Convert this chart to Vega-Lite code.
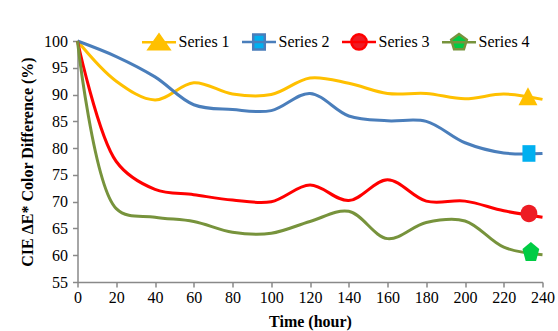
{
  "$schema": "https://vega.github.io/schema/vega-lite/v6.json",
  "autosize": {"type": "none"},
  "width": 465,
  "height": 241,
  "padding": {"left": 77.5, "top": 41, "right": 15.5, "bottom": 49},
  "background": "white",
  "config": {
    "view": {"stroke": null},
    "font": "Liberation Serif",
    "axis": {
      "grid": false,
      "domainColor": "#898989",
      "domainWidth": 1.5,
      "tickColor": "#898989",
      "tickWidth": 1.5,
      "tickSize": 5,
      "labelFont": "Liberation Serif",
      "labelFontSize": 16,
      "labelColor": "black",
      "labelOverlap": false,
      "labelFlush": false,
      "titleFont": "Liberation Serif",
      "titleFontSize": 16,
      "titleFontWeight": "bold",
      "titleColor": "black"
    },
    "legend": {
      "labelFont": "Liberation Serif",
      "labelFontSize": 16,
      "labelColor": "black"
    }
  },
  "datasets": {
    "lines": [
      {"series": "Series 1", "h": 0, "v": 100}, {"series": "Series 1", "h": 20, "v": 92.5}, {"series": "Series 1", "h": 40, "v": 89}, {"series": "Series 1", "h": 60, "v": 92.2}, {"series": "Series 1", "h": 80, "v": 90.1}, {"series": "Series 1", "h": 100, "v": 90}, {"series": "Series 1", "h": 120, "v": 93.1}, {"series": "Series 1", "h": 140, "v": 92.1}, {"series": "Series 1", "h": 160, "v": 90.2}, {"series": "Series 1", "h": 180, "v": 90.2}, {"series": "Series 1", "h": 200, "v": 89.2}, {"series": "Series 1", "h": 220, "v": 90.1}, {"series": "Series 1", "h": 240, "v": 89.1},
      {"series": "Series 2", "h": 0, "v": 100}, {"series": "Series 2", "h": 20, "v": 97.1}, {"series": "Series 2", "h": 40, "v": 93.3}, {"series": "Series 2", "h": 60, "v": 88.1}, {"series": "Series 2", "h": 80, "v": 87.2}, {"series": "Series 2", "h": 100, "v": 87}, {"series": "Series 2", "h": 120, "v": 90.2}, {"series": "Series 2", "h": 140, "v": 86}, {"series": "Series 2", "h": 160, "v": 85.1}, {"series": "Series 2", "h": 180, "v": 85}, {"series": "Series 2", "h": 200, "v": 81}, {"series": "Series 2", "h": 220, "v": 79.1}, {"series": "Series 2", "h": 240, "v": 79},
      {"series": "Series 3", "h": 0, "v": 100}, {"series": "Series 3", "h": 20, "v": 77.5}, {"series": "Series 3", "h": 40, "v": 72.3}, {"series": "Series 3", "h": 60, "v": 71.3}, {"series": "Series 3", "h": 80, "v": 70.3}, {"series": "Series 3", "h": 100, "v": 70}, {"series": "Series 3", "h": 120, "v": 73.1}, {"series": "Series 3", "h": 140, "v": 70.2}, {"series": "Series 3", "h": 160, "v": 74.1}, {"series": "Series 3", "h": 180, "v": 70.1}, {"series": "Series 3", "h": 200, "v": 70.1}, {"series": "Series 3", "h": 220, "v": 68.3}, {"series": "Series 3", "h": 240, "v": 67.1},
      {"series": "Series 4", "h": 0, "v": 100}, {"series": "Series 4", "h": 20, "v": 68.7}, {"series": "Series 4", "h": 40, "v": 67.1}, {"series": "Series 4", "h": 60, "v": 66.3}, {"series": "Series 4", "h": 80, "v": 64.3}, {"series": "Series 4", "h": 100, "v": 64.1}, {"series": "Series 4", "h": 120, "v": 66.3}, {"series": "Series 4", "h": 140, "v": 68.2}, {"series": "Series 4", "h": 160, "v": 63.1}, {"series": "Series 4", "h": 180, "v": 66.1}, {"series": "Series 4", "h": 200, "v": 66.4}, {"series": "Series 4", "h": 220, "v": 61.5}, {"series": "Series 4", "h": 240, "v": 60.1}
    ],
    "markers": [
      {"series": "Series 1", "h": 232.5, "v": 89.4},
      {"series": "Series 2", "h": 233, "v": 79},
      {"series": "Series 3", "h": 233, "v": 67.8},
      {"series": "Series 4", "h": 234, "v": 60.6}
    ]
  },
  "encoding": {
    "x": {
      "field": "h", "type": "quantitative",
      "scale": {"domain": [0, 240], "nice": false},
      "axis": {"values": [0, 20, 40, 60, 80, 100, 120, 140, 160, 180, 200, 220, 240], "title": "Time (hour)", "labelOverlap": false, "labelFlush": false, "labelFont": "Liberation Serif", "titleFont": "Liberation Serif", "labelPadding": 2, "titlePadding": 8}
    },
    "y": {
      "field": "v", "type": "quantitative",
      "scale": {"domain": [55, 100], "nice": false, "zero": false},
      "axis": {"values": [55, 60, 65, 70, 75, 80, 85, 90, 95, 100], "title": "CIE ΔE* Color Difference (%)", "labelOverlap": false, "labelFlush": false, "labelFont": "Liberation Serif", "titleFont": "Liberation Serif", "labelPadding": 5, "titlePadding": 8}
    }
  },
  "layer": [
    {
      "data": {"name": "lines"},
      "mark": {"type": "line", "interpolate": "catmull-rom", "strokeWidth": 3},
      "encoding": {
        "stroke": {
          "field": "series", "type": "nominal",
          "scale": {"domain": ["Series 1", "Series 2", "Series 3", "Series 4"], "range": ["#FFC000", "#4A7EBB", "#FF0000", "#77933C"]},
          "legend": {
            "title": null,
            "orient": "none",
            "direction": "horizontal",
            "columns": 4,
            "legendX": 63,
            "legendY": -18,
            "padding": 0,
            "labelFont": "Liberation Serif",
            "symbolSize": 1156,
            "symbolStrokeWidth": 2.5,
            "labelOffset": 1,
            "columnPadding": 6,
            "encode": {
              "symbols": {
                "update": {
                  "shape": {"signal": "datum.value == 'Series 1' ? 'M-1,0L1,0M-0.6,0.4L0,-0.45L0.6,0.4Z' : datum.value == 'Series 2' ? 'M-1,0L1,0M-0.34,-0.44L0.34,-0.44L0.34,0.44L-0.34,0.44Z' : datum.value == 'Series 3' ? 'M-1,0L1,0M0.45,0A0.45,0.45 0 1,1 -0.45,0A0.45,0.45 0 1,1 0.45,0Z' : 'M-1,0L1,0M0,-0.48L0.46,-0.14L0.29,0.42L-0.29,0.42L-0.46,-0.14Z'"},
                  "fill": {"signal": "datum.value == 'Series 1' ? '#FFC000' : datum.value == 'Series 2' ? '#00B0F0' : datum.value == 'Series 3' ? '#ED1C24' : '#00CC44'"},
                  "fillOpacity": {"value": 1}
                }
              }
            }
          }
        }
      }
    },
    {
      "data": {"name": "markers"},
      "transform": [{"filter": "datum.series == 'Series 1'"}],
      "mark": {"type": "point", "filled": true, "size": 400, "opacity": 1, "strokeWidth": 0, "color": "#FFC000", "shape": "M-0.95,0.75L0,-1.05L0.95,0.75Z"}
    },
    {
      "data": {"name": "markers"},
      "transform": [{"filter": "datum.series == 'Series 2'"}],
      "mark": {"type": "point", "filled": true, "size": 400, "opacity": 1, "strokeWidth": 0, "color": "#00B0F0", "shape": "M-0.65,-0.83L0.65,-0.83L0.65,0.83L-0.65,0.83Z"}
    },
    {
      "data": {"name": "markers"},
      "transform": [{"filter": "datum.series == 'Series 3'"}],
      "mark": {"type": "point", "filled": true, "size": 400, "opacity": 1, "strokeWidth": 0, "color": "#ED1C24", "shape": "M0.84,0A0.84,0.88 0 1,1 -0.84,0A0.84,0.88 0 1,1 0.84,0Z"}
    },
    {
      "data": {"name": "markers"},
      "transform": [{"filter": "datum.series == 'Series 4'"}],
      "mark": {"type": "point", "filled": true, "size": 400, "opacity": 1, "strokeWidth": 0, "color": "#00CC44", "shape": "M0,-1L0.84,-0.3L0.52,0.9L-0.52,0.9L-0.84,-0.3Z"}
    }
  ]
}
